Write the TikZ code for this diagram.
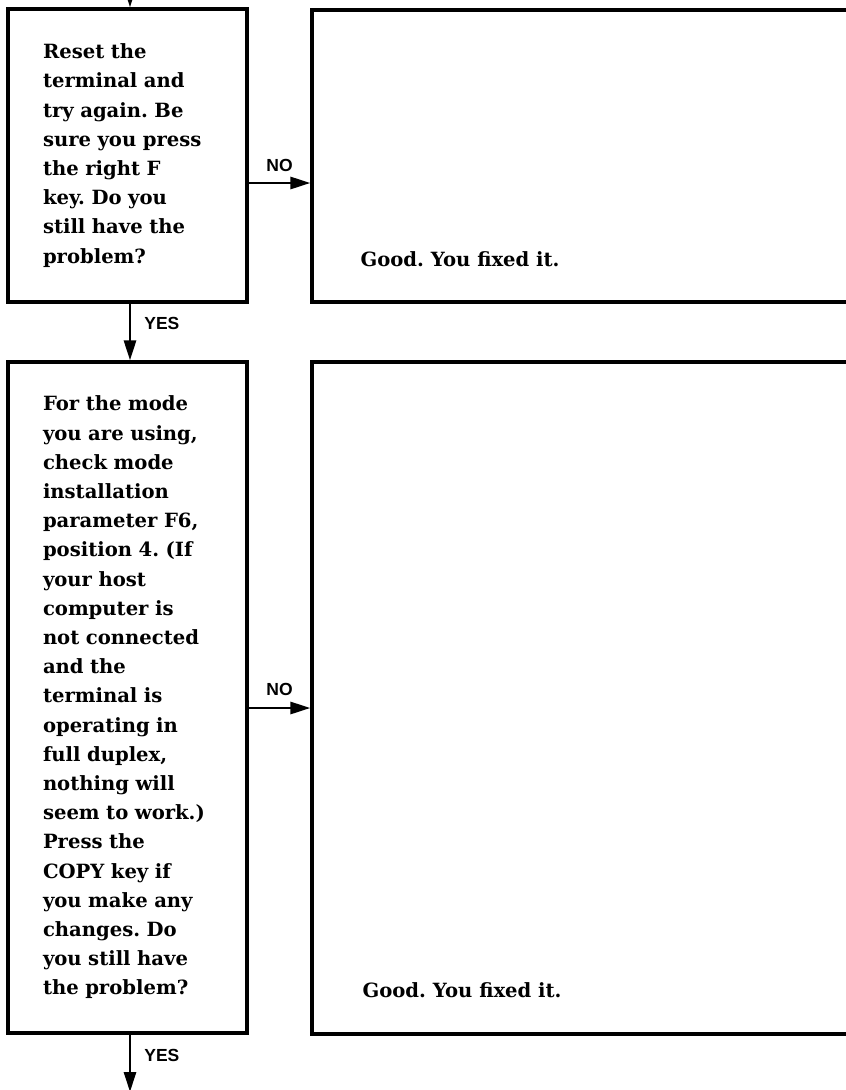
\documentclass[tikz,border=0pt]{standalone}
\usepackage{fontspec}
\setmainfont{DejaVu Serif}
\newfontfamily\tagfont{Liberation Sans}
\usetikzlibrary{arrows.meta}
\begin{document}
\frenchspacing
\begin{tikzpicture}[
    x=1pt, y=-1pt,
    qbox/.style={draw, line width=3.2pt, minimum width=239pt, text width=169pt, inner xsep=35pt, align=left, font=\bfseries\fontsize{19.6}{29.2}\selectfont},
    okbox/.style={draw, line width=3.2pt, minimum width=600pt},
    flow/.style={line width=2.8pt, -{Triangle[length=20pt, width=12pt]}},
    tag/.style={font=\tagfont\bfseries\fontsize{17.5}{18}\selectfont, inner sep=0pt},
    done/.style={anchor=base west, inner sep=0pt, font=\bfseries\fontsize{19.6}{29.2}\selectfont},
  ]
  \useasboundingbox (0,0) rectangle (846,1090);
  \clip (0,0) rectangle (846,1090);
  \node[qbox, minimum height=293pt] (reset) at (127.5,155.5) {Reset the\\ terminal and\\ try again. Be\\ sure you press\\ the right F\\ key. Do you\\ still have the\\ problem?};
  \node[okbox, minimum height=292pt] (fixA) at (612,156) {};
  \node[done] (goodA) at ([xshift=50pt,yshift=37pt]fixA.south west) {Good. You fixed it.};

  \node[qbox, minimum height=671pt] (modechk) at (127.5,697.5) {For the mode\\ you are using,\\ check mode\\ installation\\ parameter F6,\\ position 4. (If\\ your host\\ computer is\\ not connected\\ and the\\ terminal is\\ operating in\\ full duplex,\\ nothing will\\ seem to work.)\\ Press the\\ COPY key if\\ you make any\\ changes. Do\\ you still have\\ the problem?};
  \node[okbox, minimum height=672pt] (fixB) at (612,698) {};
  \node[done] (goodB) at ([xshift=52pt,yshift=38pt]fixB.south west) {Good. You fixed it.};

  \coordinate (entry) at (130,-40);
  \coordinate (exit) at (130,1092);

  \draw[flow] (entry) -- ([xshift=2.5pt]reset.north);
  \draw[flow] ([yshift=-27.5pt]reset.east) -- node[tag, above=10pt] {NO} ([yshift=-27pt]fixA.west);
  \draw[flow] ([xshift=2.5pt]reset.south) -- node[tag, right=13pt, pos=0.35] {YES} ([xshift=2.5pt]modechk.north);
  \draw[flow] ([yshift=-10.5pt]modechk.east) -- node[tag, above=11pt] {NO} ([yshift=-10pt]fixB.west);
  \draw[flow] ([xshift=2.5pt]modechk.south) -- node[tag, right=13pt, pos=0.36] {YES} (exit);
\end{tikzpicture}
\end{document}
